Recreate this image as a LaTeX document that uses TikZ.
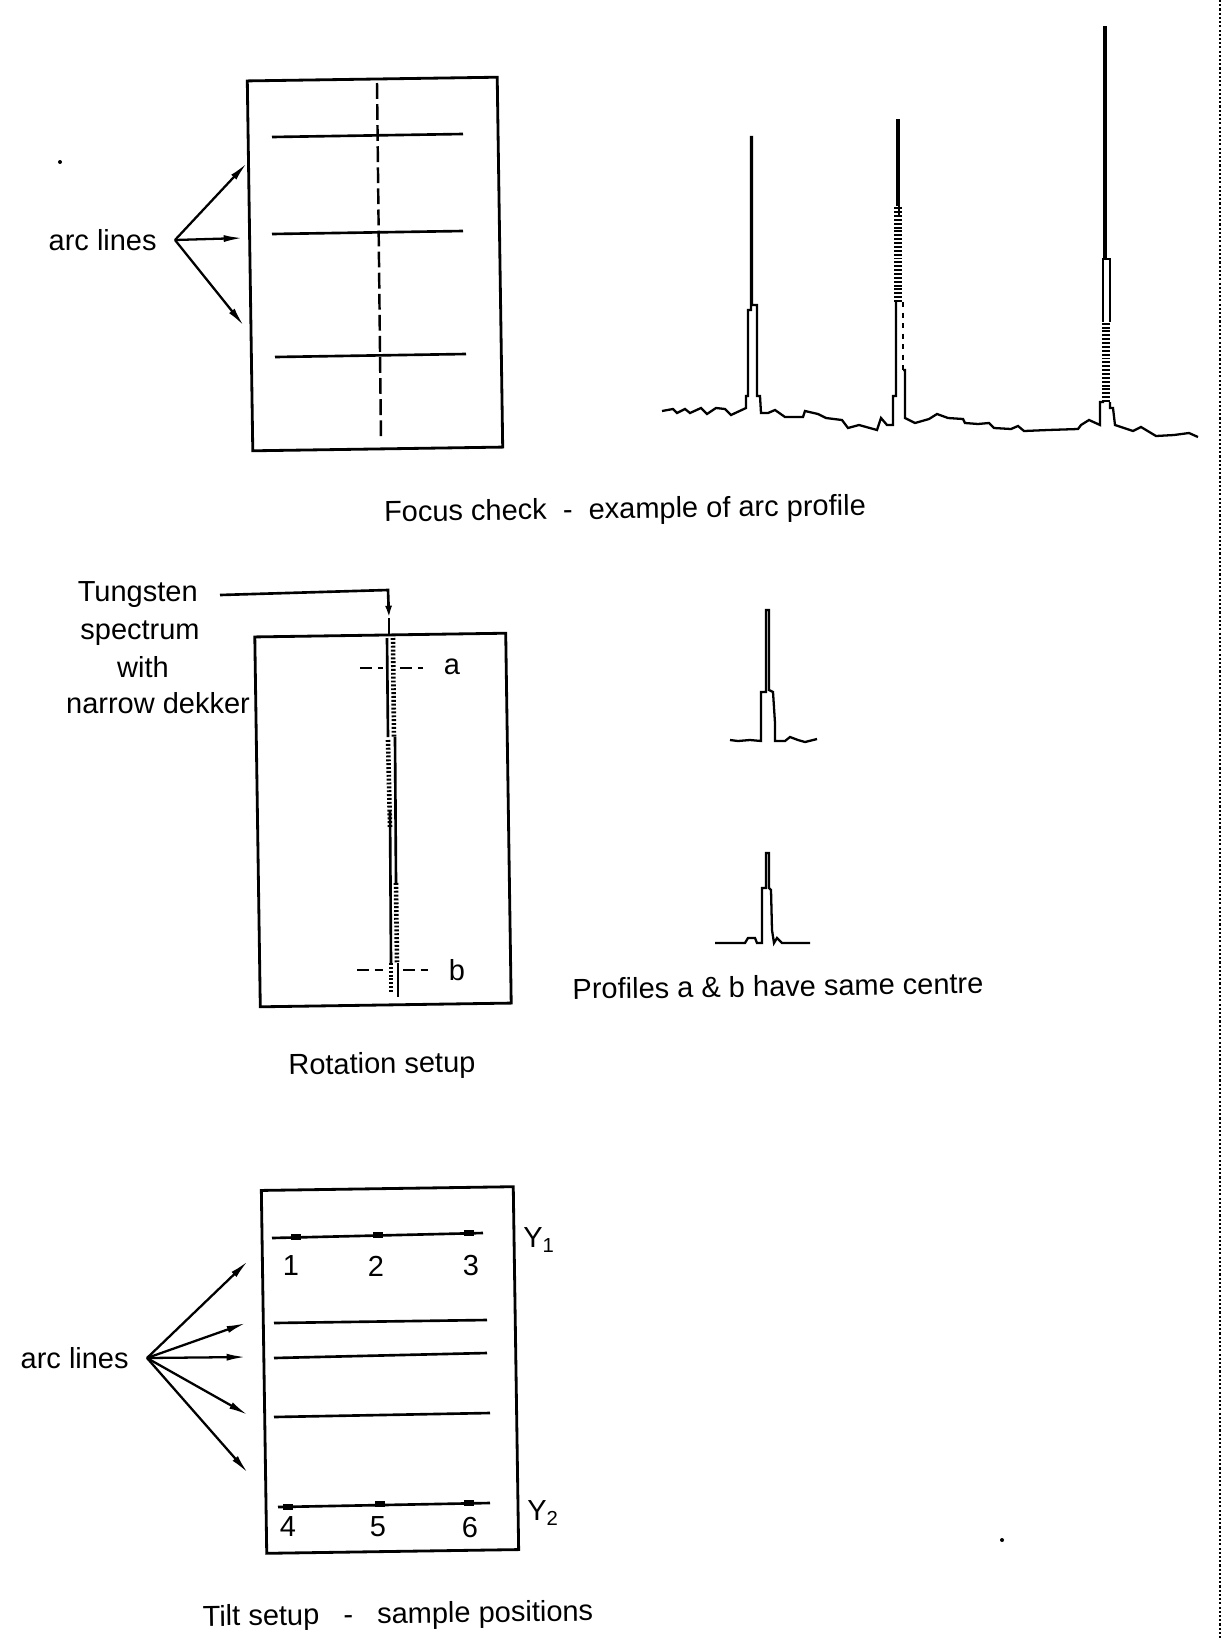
\documentclass[tikz,border=0pt]{standalone}
\usepackage{fontspec}
\setmainfont{Liberation Sans}
\usepackage{tikz}
\usetikzlibrary{arrows.meta,positioning,calc}

\begin{document}
\begin{tikzpicture}[x=0.02cm, y=-0.02cm,
        line cap=butt,
        frame/.style={rectangle, draw=black, line width=1.6pt, minimum width=5.0cm, minimum height=7.4cm, inner sep=0pt, rotate=0.85},
        label/.style={font=\fontsize{16.5}{20}\selectfont, inner sep=0pt},
        caption/.style={label, rotate=0.8},
        pointer/.style={label, anchor=east, inner xsep=0.36cm},
        arrow/.style={-{Latex[length=11pt, width=4pt]}, line width=1.3pt},
        arcline/.style={line width=1.5pt},
        trace/.style={line width=1.3pt, line join=miter},
        dither/.style={line width=2.6pt, dash pattern=on 1.1pt off 1.1pt},
        samplemark/.style={fill=black, inner sep=0pt, minimum width=0.2cm, minimum height=0.12cm}]

        \useasboundingbox (0,0) rectangle (1222,1640);

        % Nodes
        \node[frame] (focusbox) at (375,264) {};
        \node[frame, minimum width=5.02cm] (rotbox) at (383,820) {};
        \node[frame, minimum width=5.04cm, minimum height=7.26cm] (tiltbox) at (390,1370) {};

        \node[pointer] (arcfocus) at (175,240) {arc lines};
        \node[pointer] (arctilt) at (147,1358) {arc lines};
        \node[pointer, inner xsep=0.44cm] (tung) at (220,595) {Tungsten};
        \node[label] (spec) at (140,633) {spectrum};
        \node[label] (with) at (143,667) {with};
        \node[label] (dekker) at (158,703) {narrow dekker};
        \node[label] (laba) at (452,667) {a};
        \node[label] (labb) at (457,970) {b};

        \node[caption] (capfocus) at (625,511) {Focus check\ \ -\ \ example of arc profile};
        \node[caption] (caprot) at (382,1066) {Rotation setup};
        \node[caption] (capprof) at (778,986) {Profiles a \& b have same centre};
        \node[caption] (captilt) at (398,1616) {Tilt setup\ \ \ -\ \ \ sample positions};

        \foreach \n/\xx in {1/291,2/376,3/471}
            \node[label] (pos\n) at (\xx,1266) {\n};
        \foreach \n/\xx in {4/288,5/378,6/470}
            \node[label] (pos\n) at (\xx,1527) {\n};
        \node[label] (yone) at (539,1240) {Y\textsubscript{1}};
        \node[label] (ytwo) at (543,1513) {Y\textsubscript{2}};

        % Arc lines and slit, focus check
        \draw[arcline] (272,137) -- (463,134);
        \draw[arcline] (272,234) -- (463,231);
        \draw[arcline] (275,357) -- (466,354);
        \draw[line width=1.4pt, dash pattern=on 9pt off 3pt] (377,83) -- (381,440);

        % Arc lines, tilt setup
        \draw[arcline] (272,1238) -- (483,1233);
        \draw[arcline] (274,1323) -- (487,1320);
        \draw[arcline] (274,1358) -- (487,1353);
        \draw[arcline] (274,1417) -- (490,1413);
        \draw[arcline] (278,1507) -- (490,1503);
        \foreach \n/\xx/\yy in {a/296/1237,b/378/1235,c/469/1233,d/288/1507,e/380/1504,f/469/1503}
            \node[samplemark] (mark\n) at (\xx,\yy) {};

        % Tungsten spectrum
        \draw[arcline] (387,638) -- (388,737);
        \draw[dither] (388,740) -- (390,827);
        \draw[arcline] (390,810) -- (391,963);
        \draw[dither] (391,963) -- (391,993);
        \draw[dither] (393,638) -- (394,737);
        \draw[arcline] (395,737) -- (396,883);
        \draw[dither] (396,883) -- (397,963);
        \draw[arcline] (398,963) -- (398,997);
        \draw[arcline, dash pattern=on 7pt off 3pt] (360,668) -- (383,668);
        \draw[arcline, dash pattern=on 7pt off 3pt] (400,668) -- (423,668);
        \draw[arcline, dash pattern=on 7pt off 3pt] (357,970) -- (383,970);
        \draw[arcline, dash pattern=on 7pt off 3pt] (403,970) -- (428,970);

        % Connections
        \coordinate (endfa) at (247,163);
        \coordinate (endfb) at (243,238);
        \coordinate (endfc) at (244,326);
        \draw[arrow] (arcfocus.east) -- (endfa);
        \draw[arrow] (arcfocus.east) -- (endfb);
        \draw[arrow] (arcfocus.east) -- (endfc);

        \coordinate (endta) at (248,1261);
        \coordinate (endtb) at (246,1323);
        \coordinate (endtc) at (246,1357);
        \coordinate (endtd) at (248,1415);
        \coordinate (endte) at (248,1473);
        \foreach \e in {endta,endtb,endtc,endtd,endte}
            \draw[arrow] (arctilt.east) -- (\e);

        \coordinate (bendtung) at (388,590);
        \coordinate (tiptung) at (389,618);
        \coordinate (slittop) at (389,634);
        \draw[arcline, -{Latex[length=7pt, width=4pt]}] (tung.east) -- (bendtung) -- (tiptung);
        \draw[arcline] (tiptung) -- (slittop);

        % Profile of the arc
        \draw[trace] (662,411) -- (673,409) -- (677,413) -- (685,409) -- (690,413) -- (701,408) -- (707,414)
            -- (716,408) -- (725,409) -- (731,415) -- (746,408) -- (746,396) -- (748,396) -- (748,310) -- (751,310)
            -- (751,137) -- (752,137) -- (752,305) -- (757,305) -- (757,396) -- (760,396) -- (761,413) -- (768,413)
            -- (775,410) -- (785,417) -- (803,417) -- (805,411) -- (818,414) -- (826,418) -- (842,420) -- (848,428)
            -- (859,425) -- (877,430) -- (881,418) -- (887,425) -- (893,425) -- (893,396) -- (896,396) -- (896,302);
        \draw[dither, line width=4pt] (898,302) -- (898,206);
        \draw[trace] (897,206) -- (897,120) -- (899,120) -- (899,216);
        \draw[trace, dashed] (903,302) -- (903,370);
        \draw[trace] (903,370) -- (905,370) -- (905,418) -- (915,423) -- (929,419) -- (937,414) -- (948,418)
            -- (963,419) -- (965,423) -- (978,424) -- (989,423) -- (994,428) -- (1011,429) -- (1018,426) -- (1024,431)
            -- (1048,430) -- (1078,429) -- (1081,425) -- (1089,420) -- (1100,425) -- (1100,402) -- (1104,402);
        \draw[dither, line width=4pt] (1106,402) -- (1106,322);
        \draw[trace] (1103,322) -- (1103,259) -- (1104,259) -- (1104,27) -- (1106,27) -- (1106,259) -- (1110,259) -- (1110,322);
        \draw[trace] (1110,402) -- (1110,408) -- (1113,408) -- (1115,425) -- (1133,431) -- (1141,427) -- (1156,436)
            -- (1174,435) -- (1189,433) -- (1198,437);

        % Profiles a and b
        \draw[trace] (730,740) -- (738,741) -- (750,740) -- (761,741) -- (761,692) -- (766,692) -- (766,610) -- (769,610)
            -- (769,690) -- (773,692) -- (775,723) -- (775,741) -- (785,741) -- (790,737) -- (798,740) -- (805,742) -- (817,739);
        \draw[trace] (715,943) -- (745,943) -- (748,938) -- (755,938) -- (757,943) -- (762,943) -- (762,888) -- (766,888)
            -- (766,853) -- (769,853) -- (769,888) -- (771,890) -- (772,930) -- (774,943) -- (777,938) -- (782,943) -- (810,943);

        % Page edge and specks
        \draw[line width=1.3pt, dash pattern=on 1.2pt off 1.2pt] (1220,0) -- (1220,1640);
        \fill (60,162) circle (2);
        \fill (1002,1540) circle (2);

    \end{tikzpicture}
\end{document}
